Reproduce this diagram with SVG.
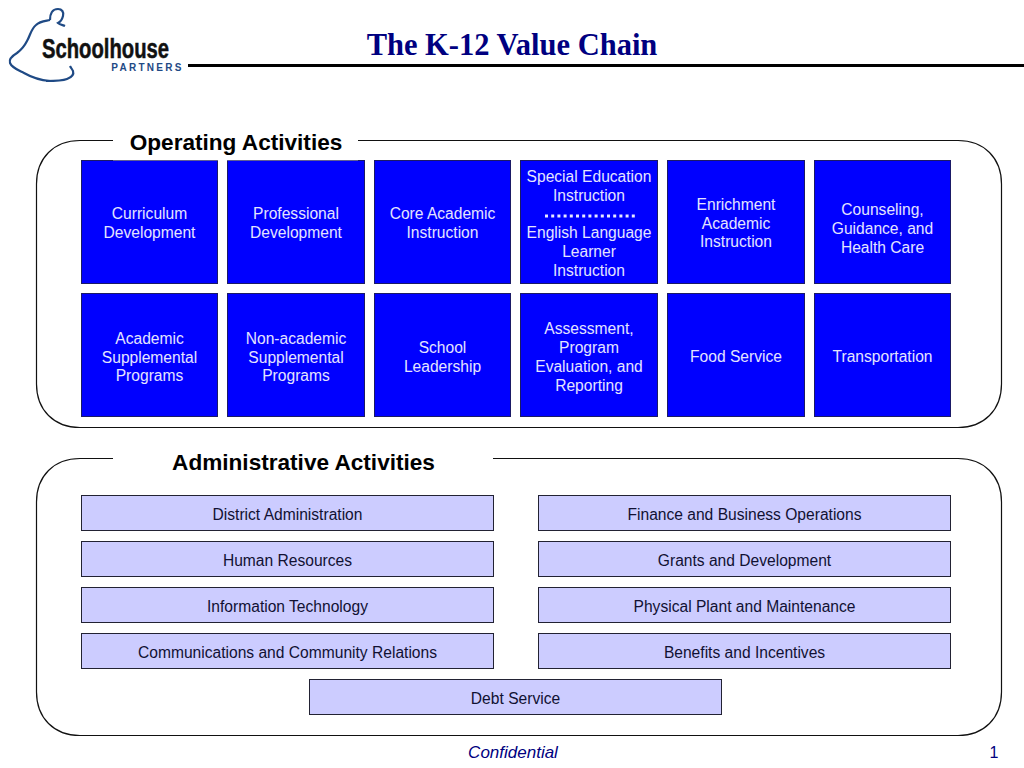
<svg xmlns="http://www.w3.org/2000/svg" width="1024" height="768" viewBox="0 0 1024 768">
<style>
text{font-family:"Liberation Sans",Arial,sans-serif;text-anchor:middle}
.b rect{fill:#0000ff;stroke:#1a1a66;stroke-width:1}
.b text{fill:#e4e4ff;font-size:15.6px;transform:translateY(.6px)}
.a rect{fill:#ccccff;stroke:#222233;stroke-width:1}
.a text{fill:#111133;font-size:15.6px;transform:translateY(.6px)}
.h{font-weight:bold;font-size:22.6px;fill:#000}
.c{fill:none;stroke:#111;stroke-width:1.2}
.l{fill:none;stroke:#1f4a85;stroke-width:2.2}
</style>
<rect width="1024" height="768" fill="#fff"/>
<g id="logo">
<path class="l" d="M50 20C46 21 40 21 36 25C31 29 30 36 27 41C24 47 21 50 17 53C12 56 9 60 10 63C12 68 18 70 24 73C31 77 38 80 50 81"/>
<path class="l" d="M50 20C50 14 52 9 58 9C62 9 64 12 63 16C62 20 60 22 58 23C60 25 63 25 65 26"/>
<path class="l" d="M46 81C54 81 62 81 67 79C72 77 74 74 73 71C72 69 71 68 70 66"/>
<text x="105.500" y="58" font-size="27" font-weight="bold" textLength="127" lengthAdjust="spacingAndGlyphs" fill="#111" stroke="#111" stroke-width=".5">Schoolhouse</text>
<text x="147.500" y="71" font-size="10" font-weight="bold" letter-spacing="2.300" fill="#1f4a85">PARTNERS</text>
</g>
<rect id="title-rule" x="188" y="64" width="836" height="3" fill="#000"/>
<text id="title" x="512" y="54.800" font-size="30.500" font-weight="bold" fill="#000080" style="font-family:'Liberation Serif',serif">The K-12 Value Chain</text>
<g id="connectors">
<path class="c" d="M113 140.500H80C54 140.500 36.500 158 36.500 184V384C36.500 410 54 427.500 80 427.500H958C984 427.500 1001.500 410 1001.500 384V184C1001.500 158 984 140.500 958 140.500H358"/>
<path class="c" d="M113 458.500H80C54 458.500 36.500 476 36.500 502V692C36.500 718 54 735.500 80 735.500H958C984 735.500 1001.500 718 1001.500 692V502C1001.500 476 984 458.500 958 458.500H493"/>
</g>
<g id="op1" class="b"><rect x="81.500" y="160.500" width="136" height="123"/><text x="149.500" y="218">Curriculum</text><text x="149.500" y="237">Development</text></g>
<g id="op2" class="b"><rect x="227.500" y="160.500" width="137" height="123"/><text x="296" y="218">Professional</text><text x="296" y="237">Development</text></g>
<g id="op3" class="b"><rect x="374.500" y="160.500" width="136" height="123"/><text x="442.500" y="218">Core Academic</text><text x="442.500" y="237">Instruction</text></g>
<g id="op4" class="b"><rect x="520.500" y="160.500" width="137" height="123"/><text x="589" y="181">Special Education</text><text x="589" y="200">Instruction</text><path d="M545 216H637" stroke="#e8e8ff" stroke-width="3" stroke-dasharray="3 3.200" fill="none"/><text x="589" y="237">English Language</text><text x="589" y="256">Learner</text><text x="589" y="275">Instruction</text></g>
<g id="op5" class="b"><rect x="667.500" y="160.500" width="137" height="123"/><text x="736" y="209">Enrichment</text><text x="736" y="228">Academic</text><text x="736" y="246">Instruction</text></g>
<g id="op6" class="b"><rect x="814.500" y="160.500" width="136" height="123"/><text x="882.500" y="214">Counseling,</text><text x="882.500" y="233">Guidance, and</text><text x="882.500" y="252">Health Care</text></g>
<g id="op7" class="b"><rect x="81.500" y="293.500" width="136" height="123"/><text x="149.500" y="343">Academic</text><text x="149.500" y="362">Supplemental</text><text x="149.500" y="380">Programs</text></g>
<g id="op8" class="b"><rect x="227.500" y="293.500" width="137" height="123"/><text x="296" y="343">Non-academic</text><text x="296" y="362">Supplemental</text><text x="296" y="380">Programs</text></g>
<g id="op9" class="b"><rect x="374.500" y="293.500" width="136" height="123"/><text x="442.500" y="352">School</text><text x="442.500" y="371">Leadership</text></g>
<g id="op10" class="b"><rect x="520.500" y="293.500" width="137" height="123"/><text x="589" y="333">Assessment,</text><text x="589" y="352">Program</text><text x="589" y="371">Evaluation, and</text><text x="589" y="390">Reporting</text></g>
<g id="op11" class="b"><rect x="667.500" y="293.500" width="137" height="123"/><text x="736" y="361">Food Service</text></g>
<g id="op12" class="b"><rect x="814.500" y="293.500" width="136" height="123"/><text x="882.500" y="361">Transportation</text></g>
<g id="ad1" class="a"><rect x="81.500" y="495.500" width="412" height="35"/><text x="287.500" y="519">District Administration</text></g>
<g id="ad2" class="a"><rect x="538.500" y="495.500" width="412" height="35"/><text x="744.500" y="519">Finance and Business Operations</text></g>
<g id="ad3" class="a"><rect x="81.500" y="541.500" width="412" height="35"/><text x="287.500" y="565">Human Resources</text></g>
<g id="ad4" class="a"><rect x="538.500" y="541.500" width="412" height="35"/><text x="744.500" y="565">Grants and Development</text></g>
<g id="ad5" class="a"><rect x="81.500" y="587.500" width="412" height="35"/><text x="287.500" y="611">Information Technology</text></g>
<g id="ad6" class="a"><rect x="538.500" y="587.500" width="412" height="35"/><text x="744.500" y="611">Physical Plant and Maintenance</text></g>
<g id="ad7" class="a"><rect x="81.500" y="633.500" width="412" height="35"/><text x="287.500" y="657">Communications and Community Relations</text></g>
<g id="ad8" class="a"><rect x="538.500" y="633.500" width="412" height="35"/><text x="744.500" y="657">Benefits and Incentives</text></g>
<g id="ad9" class="a"><rect x="309.500" y="679.500" width="412" height="35"/><text x="515.500" y="703">Debt Service</text></g>
<rect x="113" y="135" width="245" height="25.300" fill="#fff"/>
<text id="operating-heading" class="h" x="236" y="150.300">Operating Activities</text>
<text id="administrative-heading" class="h" x="303.500" y="470.300">Administrative Activities</text>
<text id="confidential" x="513" y="758" font-size="17" font-style="italic" fill="#000080">Confidential</text>
<text id="page" x="994" y="758" font-size="16" fill="#000080">1</text>
</svg>
